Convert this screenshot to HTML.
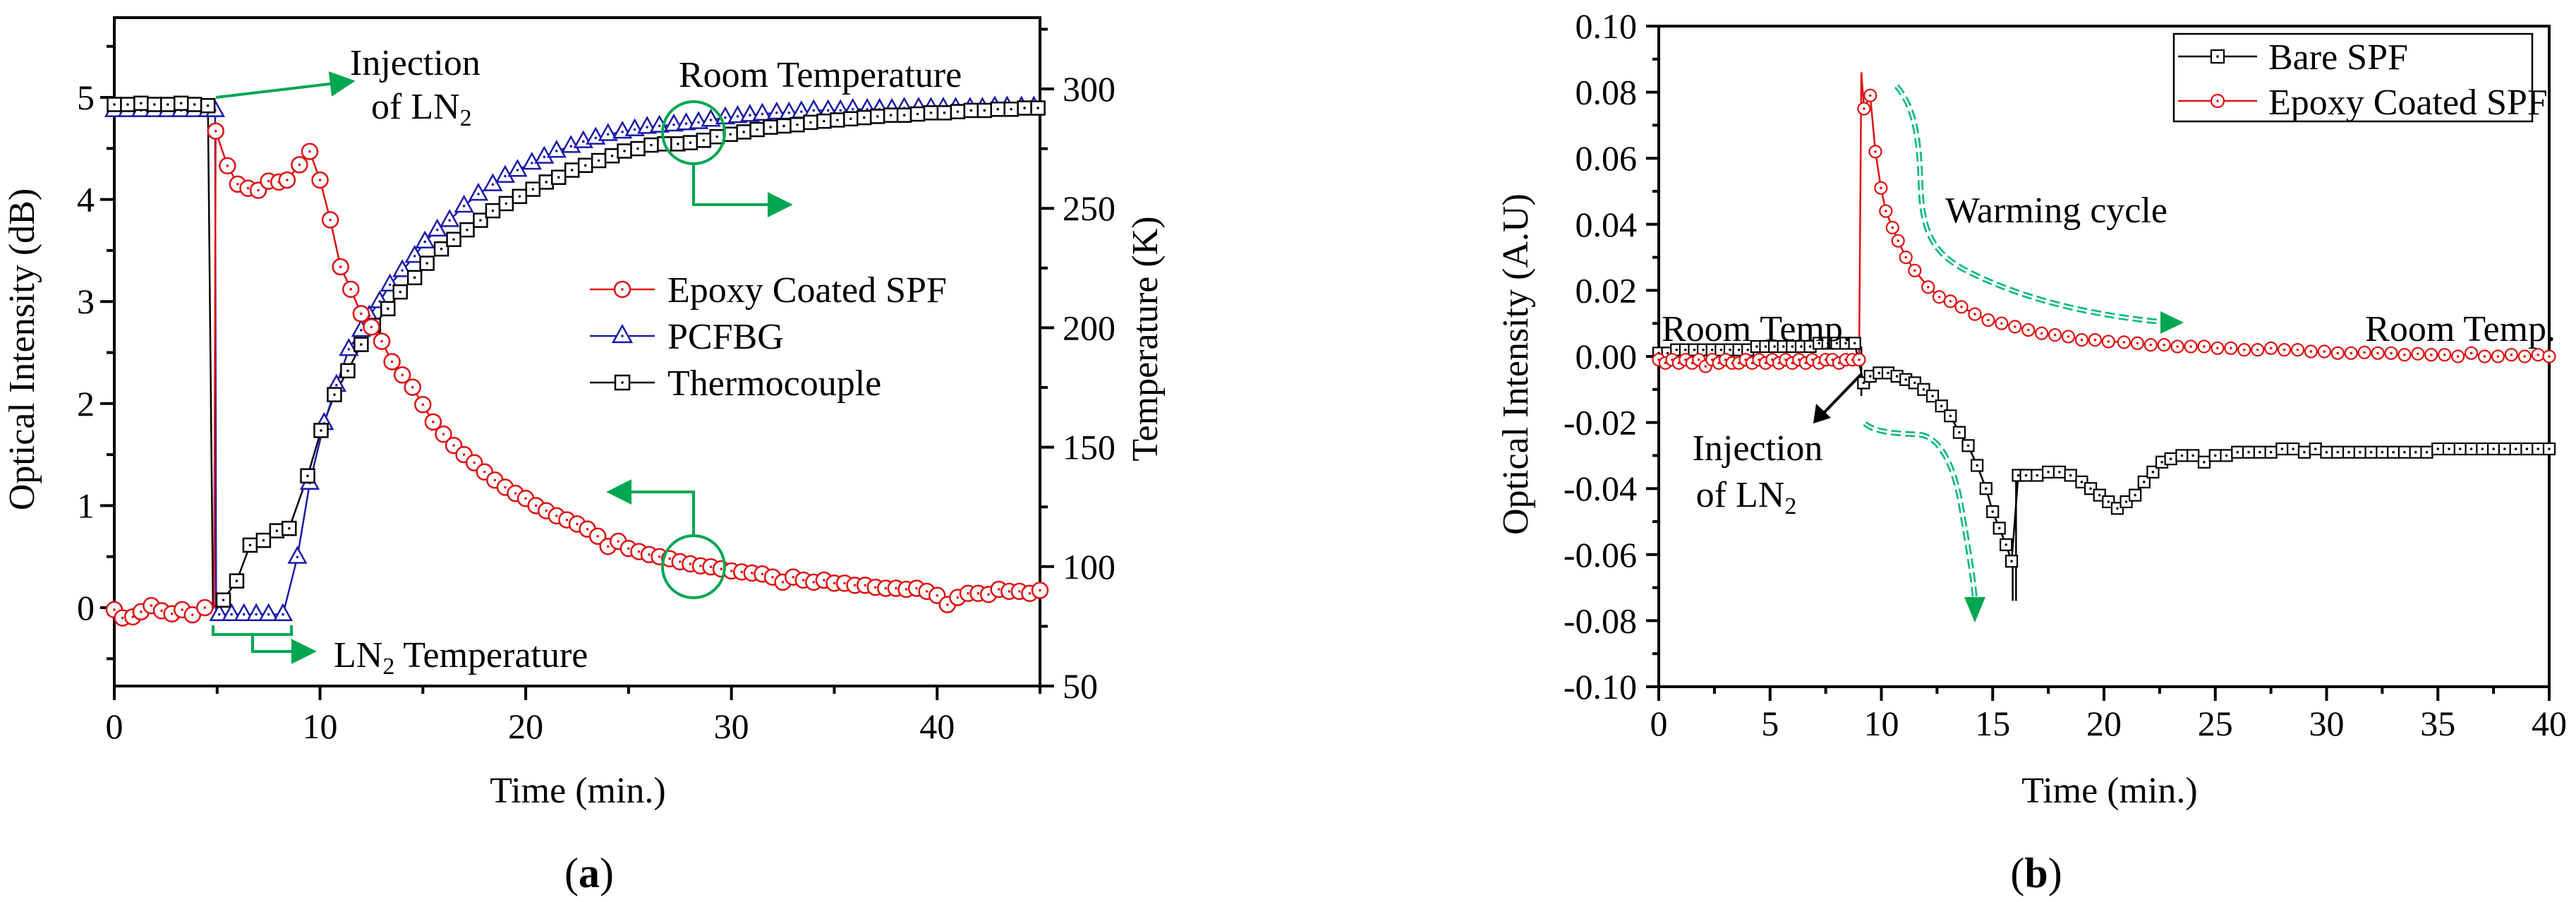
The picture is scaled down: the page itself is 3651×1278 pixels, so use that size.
<!DOCTYPE html>
<html><head><meta charset="utf-8"><style>
html,body{margin:0;padding:0;background:#fff;}
svg{display:block;font-family:"Liberation Serif",serif;}
</style></head><body>
<svg id="fig" width="3651" height="1278" viewBox="0 0 3651 1278" xmlns="http://www.w3.org/2000/svg">
<defs>
<marker id="ga" viewBox="0 0 10 10" refX="2" refY="5" markerWidth="9" markerHeight="9" orient="auto"><path d="M0,0L10,5L0,10z" fill="#00a650"/></marker>
</defs>
<g id="chartA"></g>
<g id="chartB"></g>

<g font-size="52" fill="#000">
<text x="48" y="495" text-anchor="middle" transform="rotate(-90 48 495)">Optical Intensity (dB)</text>
<text x="1640" y="480" text-anchor="middle" transform="rotate(-90 1640 480)">Temperature (K)</text>
<text x="819" y="1137" text-anchor="middle">Time (min.)</text>
<text x="835" y="1257" text-anchor="middle" font-size="60">(<tspan font-weight="bold">a</tspan>)</text>
<text x="496" y="106">Injection</text>
<text x="526" y="168">of LN<tspan font-size="34" dy="10">2</tspan></text>
<text x="962" y="123">Room Temperature</text>
<text x="473" y="945">LN<tspan font-size="34" dy="10">2</tspan><tspan dy="-10"> Temperature</tspan></text>
</g>
<g stroke="#00a650" stroke-width="4" fill="none">
<line x1="306" y1="138" x2="475" y2="118" marker-end="url(#ga)"/>
<circle cx="983" cy="188" r="44"/>
<polyline points="983,232 983,290 1095,290" marker-end="url(#ga)"/>
<circle cx="983" cy="803" r="44"/>
<polyline points="983,759 983,697 888,697" marker-end="url(#ga)"/>
<polyline points="302,886 302,899 413,899 413,886"/>
<polyline points="358,899 358,923 420,923" marker-end="url(#ga)"/>
</g>
<g font-size="52">
<text x="946" y="428">Epoxy Coated SPF</text>
<text x="946" y="494">PCFBG</text>
<text x="946" y="560">Thermocouple</text>
</g>

<g font-size="52" fill="#000">
<text x="2165" y="516" text-anchor="middle" transform="rotate(-90 2165 516)">Optical Intensity (A.U)</text>
<text x="2990" y="1137" text-anchor="middle">Time (min.)</text>
<text x="2886" y="1257" text-anchor="middle" font-size="60">(<tspan font-weight="bold">b</tspan>)</text>
<text x="2355" y="483">Room Temp.</text>
<text x="3622" y="483" text-anchor="end">Room Temp.</text>
<text x="2757" y="315">Warming cycle</text>
<text x="2491" y="652" text-anchor="middle">Injection</text>
<text x="2475" y="718" text-anchor="middle">of LN<tspan font-size="34" dy="10">2</tspan></text>
</g>
<g fill="none">
<path d="M2688,122 C2712,150 2720,190 2722,260 C2724,330 2740,360 2790,385 C2860,420 2950,445 3062,456" stroke="#12b886" stroke-width="8" stroke-dasharray="14 6"/>
<path d="M2688,122 C2712,150 2720,190 2722,260 C2724,330 2740,360 2790,385 C2860,420 2950,445 3062,456" stroke="#fff" stroke-width="2.5"/>
<path d="M3062,441 L3095,457 L3062,473 z" fill="#00a650"/>
<path d="M2643,600 C2660,615 2700,614 2722,616 C2750,620 2770,660 2780,720 C2790,780 2797,820 2799,850" stroke="#12b886" stroke-width="8" stroke-dasharray="14 6"/>
<path d="M2643,600 C2660,615 2700,614 2722,616 C2750,620 2770,660 2780,720 C2790,780 2797,820 2799,850" stroke="#fff" stroke-width="2.5"/>
<path d="M2784,846 L2799,882 L2814,846 z" fill="#00a650"/>
<line x1="2638" y1="530" x2="2582" y2="588" stroke="#000" stroke-width="4"/>
<path d="M2570,600 L2574,572 L2595,592 z" fill="#000"/>
</g>
<g>
<rect x="3081" y="48" width="508" height="124" fill="none" stroke="#000" stroke-width="2.5"/>
<text x="3215" y="98" font-size="52">Bare SPF</text>
<text x="3215" y="162" font-size="52">Epoxy Coated SPF</text>
</g>
</svg>
<script>
// ---------- Chart A data ----------
const aXTicks = [0,10,20,30,40];
const aYLeftTicks = [0,1,2,3,4,5];
const aYRightTicks = [50,100,150,200,250,300];
const epoxyA = [[0,-0.02],[0.4,-0.1],[0.9,-0.09],[1.3,-0.04],[1.8,0.02],[2.3,-0.03],[2.8,-0.06],[3.3,-0.02],[3.8,-0.07],[4.4,0.0],[4.85,0.0],[4.93,4.67],[5.5,4.33],[6.0,4.15],[6.5,4.11],[7.0,4.09],[7.5,4.18],[8.0,4.17],[8.4,4.19],[9.0,4.34],[9.5,4.47],[10,4.19],[10.5,3.8],[11,3.34],[11.5,3.12],[12,2.88],[12.5,2.75],[13,2.61],[13.5,2.41],[14,2.28],[14.5,2.16],[15,1.99],[15.5,1.82],[16,1.7],[16.5,1.59],[17,1.5],[17.5,1.42],[18,1.33],[18.5,1.25],[19,1.18],[19.5,1.12],[20,1.07],[20.5,1.0],[21,0.95],[21.5,0.9],[22,0.86],[22.5,0.82],[23,0.77],[23.5,0.7],[24,0.6],[24.5,0.65],[25,0.58],[25.5,0.55],[26,0.52],[26.5,0.5],[27,0.48],[27.5,0.45],[28,0.43],[28.5,0.41],[29,0.4],[29.5,0.38],[30,0.36],[30.5,0.35],[31,0.34],[31.5,0.33],[32,0.3],[32.5,0.25],[33,0.3],[33.5,0.27],[34,0.25],[34.5,0.27],[35,0.24],[35.5,0.24],[36,0.22],[36.5,0.22],[37,0.2],[37.5,0.19],[38,0.19],[38.5,0.18],[39,0.19],[39.5,0.16],[40,0.12],[40.5,0.03],[41,0.1],[41.5,0.14],[42,0.14],[42.5,0.13],[43,0.18],[43.5,0.16],[44,0.16],[44.5,0.14],[45,0.17]];
const pcfbgA = [[0,291],[0.65,291],[1.3,291],[1.95,291],[2.6,291],[3.25,291],[3.9,291],[4.55,291],[4.9,291],[4.95,80],[5.1,80],[5.7,80],[6.3,80],[6.9,80],[7.5,80],[8.2,80],[8.9,104],[9.5,135],[10.2,160],[10.8,176],[11.4,191],[12.0,199],[12.4,205],[12.9,211],[13.4,218],[14.0,224],[14.6,230],[15.1,236],[15.7,241],[16.3,245],[17.0,251],[17.7,256],[18.4,260],[19.0,263.5],[19.6,266],[20.3,269],[20.9,271.5],[21.5,274],[22.2,276],[22.8,278],[23.4,279.5],[24.0,281],[24.7,282],[25.3,283],[25.9,284],[26.5,284.5],[27.2,285],[27.8,285.5],[28.4,286],[29.0,287],[29.7,288],[30.3,288.5],[30.9,289],[31.5,289.5],[32.2,290],[32.8,290],[33.4,290.5],[34.0,291],[34.7,291],[35.3,291],[35.9,291.5],[36.6,291.5],[37.2,291.5],[37.8,291.5],[38.4,292],[39.1,292],[39.7,292],[40.3,292],[40.9,292],[41.6,292],[42.2,292],[42.8,292.5],[43.4,292.5],[44.1,292.5],[44.7,292.5]];
const thermoA = [[0,293.5],[0.65,293.5],[1.3,294],[1.95,293.5],[2.6,293.5],[3.25,294],[3.9,293.5],[4.55,293],[4.8,83],[5.3,86],[5.95,94],[6.6,109],[7.25,111],[7.9,115],[8.5,116],[9.4,138],[10.05,157],[10.7,172],[11.35,182],[12.0,193],[12.6,201],[13.3,208],[13.9,215],[14.6,221],[15.2,227],[15.9,233],[16.5,237],[17.15,241],[17.8,245],[18.4,249],[19.05,252],[19.7,255],[20.35,258],[21.0,261],[21.6,263],[22.25,266],[22.9,268],[23.55,270],[24.2,272],[24.8,274],[25.45,275],[26.1,276.5],[26.75,277],[27.4,277],[28.0,277.5],[28.65,278.5],[29.3,280],[29.95,281],[30.6,282],[31.25,283],[31.9,284],[32.55,284.5],[33.2,285],[33.85,286],[34.5,286.5],[35.15,287],[35.8,287.5],[36.45,288],[37.1,288.5],[37.75,289],[38.4,289],[39.05,289.5],[39.7,290],[40.35,290],[41.0,290.5],[41.65,291],[42.3,291],[42.95,291.5],[43.6,291.5],[44.25,292],[44.9,292]];
// ---------- Chart B data ----------
const bXTicks = [0,5,10,15,20,25,30,35,40];
const bYTicks = [-0.10,-0.08,-0.06,-0.04,-0.02,0.00,0.02,0.04,0.06,0.08,0.10];
const bYTickLabels = ["-0.10","-0.08","-0.06","-0.04","-0.02","0.00","0.02","0.04","0.06","0.08","0.10"];
const bareB = [[0,0.001],[0.4,0.001],[0.8,0.002],[1.2,0.002],[1.6,0.002],[2,0.002],[2.4,0.002],[2.8,0.002],[3.2,0.002],[3.6,0.002],[4,0.002],[4.4,0.003],[4.8,0.003],[5.2,0.003],[5.6,0.003],[6,0.003],[6.4,0.003],[6.8,0.003],[7.2,0.004],[7.6,0.004],[8,0.004],[8.4,0.004],[8.8,0.004],[9.2,-0.008],[9.5,-0.006],[9.9,-0.005],[10.3,-0.005],[10.7,-0.006],[11.1,-0.007],[11.5,-0.008],[11.9,-0.010],[12.3,-0.012],[12.7,-0.015],[13.1,-0.018],[13.5,-0.023],[13.9,-0.027],[14.3,-0.033],[14.7,-0.040],[15.0,-0.047],[15.3,-0.052],[15.6,-0.057],[15.85,-0.062],[16.15,-0.036],[16.5,-0.036],[17,-0.036],[17.5,-0.035],[18,-0.035],[18.5,-0.036],[19,-0.038],[19.4,-0.040],[19.8,-0.042],[20.2,-0.044],[20.6,-0.046],[21,-0.044],[21.4,-0.042],[21.8,-0.038],[22.2,-0.035],[22.6,-0.032],[23,-0.031],[23.5,-0.030],[24,-0.030],[24.5,-0.032],[25,-0.030],[25.5,-0.030],[26,-0.029],[26.5,-0.029],[27,-0.029],[27.5,-0.029],[28,-0.028],[28.5,-0.028],[29,-0.029],[29.5,-0.028],[30,-0.029],[30.5,-0.029],[31,-0.029],[31.5,-0.029],[32,-0.029],[32.5,-0.029],[33,-0.029],[33.5,-0.029],[34,-0.029],[34.5,-0.029],[35,-0.028],[35.5,-0.028],[36,-0.028],[36.5,-0.028],[37,-0.028],[37.5,-0.028],[38,-0.028],[38.5,-0.028],[39,-0.028],[39.5,-0.028],[40,-0.028]];
const bareSpikes = [[9.1,0.003,-0.012],[15.9,-0.062,-0.074],[16.05,-0.074,-0.036]];
const epoxyB = [[0,-0.001],[0.3,-0.002],[0.6,-0.001],[0.9,-0.002],[1.2,-0.001],[1.5,-0.002],[1.8,-0.001],[2.1,-0.003],[2.4,-0.001],[2.7,-0.002],[3.0,-0.001],[3.3,-0.002],[3.6,-0.002],[3.9,-0.001],[4.2,-0.002],[4.5,-0.001],[4.8,-0.002],[5.1,-0.001],[5.4,-0.002],[5.7,-0.001],[6.0,-0.002],[6.3,-0.001],[6.6,-0.002],[6.9,-0.001],[7.2,-0.002],[7.5,-0.001],[7.8,-0.001],[8.1,-0.002],[8.4,-0.001],[8.7,-0.001],[9.0,-0.001],[9.1,0.086],[9.22,0.075],[9.5,0.079],[9.73,0.062],[9.98,0.051],[10.2,0.044],[10.5,0.039],[10.75,0.035],[11.1,0.030],[11.5,0.026],[12.1,0.021],[12.6,0.018],[13.1,0.0167],[13.6,0.015],[14.2,0.0128],[14.8,0.011],[15.4,0.010],[16,0.009],[16.6,0.008],[17.2,0.007],[17.8,0.0065],[18.4,0.006],[19.0,0.005],[19.6,0.005],[20.2,0.0045],[20.9,0.0043],[21.5,0.004],[22.1,0.0035],[22.7,0.0035],[23.3,0.003],[23.9,0.003],[24.5,0.003],[25.1,0.0025],[25.7,0.0025],[26.3,0.002],[26.9,0.002],[27.5,0.0025],[28.1,0.002],[28.7,0.002],[29.3,0.0015],[29.9,0.0015],[30.5,0.001],[31.1,0.001],[31.7,0.0012],[32.3,0.001],[32.9,0.001],[33.5,0.0005],[34.1,0.0008],[34.7,0.0005],[35.3,0.0005],[35.9,0.0],[36.5,0.001],[37.1,0.0],[37.7,0.0],[38.3,0.0005],[38.9,0.0],[39.5,0.0005],[40,0.0]];

const NS = "http://www.w3.org/2000/svg";
function el(parent, tag, attrs){
  const e = document.createElementNS(NS, tag);
  for (const k in attrs) e.setAttribute(k, attrs[k]);
  parent.appendChild(e);
  return e;
}
const gA = document.getElementById('chartA');
const gB = document.getElementById('chartB');

const A = {x0:162, x1:1474, y0:972, y1:25};
const xA = t => A.x0 + t*(A.x1-A.x0)/45;
const yAdB = v => 861 - v*144.6;
const yAK = k => 972 - (k-50)*3.384;
const B = {x0:2351, x1:3613, y0:973, y1:37};
const xB = t => B.x0 + t*(B.x1-B.x0)/40;
const yB = v => 505 - v*4680;

let e;
e = el(gA,'rect',{x:A.x0,y:A.y1,width:A.x1-A.x0,height:A.y0-A.y1,fill:'none',stroke:'#000','stroke-width':4});


for (let t=0;t<=45;t+=5){
  const major = (t%10===0);
  e = el(gA,'line',{x1:xA(t),x2:xA(t),y1:A.y0,y2:A.y0+(major?20:11),stroke:'#000','stroke-width':4});
  
  
}
aXTicks.forEach(t=>{
  e = el(gA,'text',{x:xA(t),y:1046,'text-anchor':'middle','font-size':50});
  e.textContent = String(t);
  
  
});
for (let v=-0.5; v<=5.51; v+=0.5){
  const major = Math.abs(v-Math.round(v))<0.01;
  e = el(gA,'line',{x1:A.x0,x2:A.x0-(major?20:11),y1:yAdB(v),y2:yAdB(v),stroke:'#000','stroke-width':4});
  
  
}
aYLeftTicks.forEach(v=>{
  e = el(gA,'text',{x:134,y:yAdB(v)+17,'text-anchor':'end','font-size':50});
  e.textContent = String(v);
  
  
});
for (let k=50;k<=325;k+=25){
  const major = (k%50===0);
  e = el(gA,'line',{x1:A.x1,x2:A.x1+(major?20:11),y1:yAK(k),y2:yAK(k),stroke:'#000','stroke-width':4});
  
  
}
aYRightTicks.forEach(k=>{
  e = el(gA,'text',{x:1506,y:yAK(k)+17,'font-size':50});
  e.textContent = String(k);
  
  
});

function ptsStr(arr, fx, fy){ return arr.map(p=>fx(p[0]).toFixed(1)+','+fy(p[1]).toFixed(1)).join(' '); }

e = el(gA,'polyline',{points:ptsStr(thermoA,xA,yAK),fill:'none',stroke:'#000','stroke-width':2.5});


e = el(gA,'polyline',{points:ptsStr(pcfbgA,xA,yAK),fill:'none',stroke:'#1a1aa8','stroke-width':2.5});


e = el(gA,'polyline',{points:ptsStr(epoxyA,xA,yAdB),fill:'none',stroke:'#e01010','stroke-width':2.5});



function tri(g,cx,cy,s,col){
  const h=s*0.9;
  const p = `${cx},${cy-h*0.62} ${cx+s/2},${cy+h*0.38} ${cx-s/2},${cy+h*0.38}`;
  return el(g,'polygon',{points:p,fill:'#fff',stroke:col,'stroke-width':2.5});
}
function dot(g,cx,cy,col){ return el(g,'circle',{cx:cx,cy:cy,r:1.8,fill:col}); }

pcfbgA.forEach((p,i)=>{
  if (i===9) return;
  const cx=xA(p[0]), cy=yAK(p[1]);
  e = tri(gA,cx,cy,24,'#1a1aa8');
  
  
  e = dot(gA,cx,cy,'#1a1aa8');
  
  
});
thermoA.forEach((p,i)=>{
  if (i===8) return;
  const cx=xA(p[0]), cy=yAK(p[1]);
  e = el(gA,'rect',{x:cx-9.5,y:cy-9.5,width:19,height:19,fill:'#fff',stroke:'#000','stroke-width':2.5});
  
  
  e = dot(gA,cx,cy,'#000');
  
  
});
epoxyA.forEach((p,i)=>{
  if (i===10) return;
  const cx=xA(p[0]), cy=yAdB(p[1]);
  e = el(gA,'circle',{cx:cx,cy:cy,r:11,fill:'#fff',stroke:'#e01010','stroke-width':2.5});
  
  
  e = dot(gA,cx,cy,'#e01010');
  
  
});

const legA = [[410,'#e01010','c'],[476,'#1a1aa8','t'],[542,'#000','s']];
legA.forEach(r=>{
  e = el(gA,'line',{x1:836,x2:928,y1:r[0],y2:r[0],stroke:r[1],'stroke-width':2.5});
  
  
  if (r[2]==='c') e = el(gA,'circle',{cx:882,cy:r[0],r:11,fill:'#fff',stroke:r[1],'stroke-width':2.5});
  else if (r[2]==='t') e = tri(gA,882,r[0],26,r[1]);
  else e = el(gA,'rect',{x:872,y:r[0]-10,width:20,height:20,fill:'#fff',stroke:r[1],'stroke-width':2.5});
  
  
  e = dot(gA,882,r[0],r[1]);
  
  
});

e = el(gB,'rect',{x:B.x0,y:B.y1,width:B.x1-B.x0,height:B.y0-B.y1,fill:'none',stroke:'#000','stroke-width':4});


for (let t=0;t<=40;t+=2.5){
  const major = (t%5===0);
  e = el(gB,'line',{x1:xB(t),x2:xB(t),y1:B.y0,y2:B.y0+(major?20:10),stroke:'#000','stroke-width':4});
  
  
}
bXTicks.forEach(t=>{
  e = el(gB,'text',{x:xB(t),y:1042,'text-anchor':'middle','font-size':50});
  e.textContent = String(t);
  
  
});
for (let i=-10;i<=10;i++){
  const major = (i%2===0);
  const v=i/100;
  e = el(gB,'line',{x1:B.x0,x2:B.x0-(major?18:9),y1:yB(v),y2:yB(v),stroke:'#000','stroke-width':4});
  
  
}
bYTicks.forEach((v,i)=>{
  e = el(gB,'text',{x:2320,y:yB(v)+17,'text-anchor':'end','font-size':50});
  e.textContent = bYTickLabels[i];
  
  
});

e = el(gB,'polyline',{points:ptsStr(bareB,xB,yB),fill:'none',stroke:'#000','stroke-width':2.5});


bareSpikes.forEach(s=>{
  e = el(gB,'line',{x1:xB(s[0]),x2:xB(s[0]),y1:yB(s[1]),y2:yB(s[2]),stroke:'#000','stroke-width':2.5});
  
  
});
e = el(gB,'polyline',{points:ptsStr(epoxyB,xB,yB),fill:'none',stroke:'#e01010','stroke-width':2.5});



bareB.forEach(p=>{
  const cx=xB(p[0]), cy=yB(p[1]);
  e = el(gB,'rect',{x:cx-8,y:cy-8,width:16,height:16,fill:'#fff',stroke:'#000','stroke-width':2.2});
  
  
  e = dot(gB,cx,cy,'#000');
  
  
});
epoxyB.forEach((p,i)=>{
  if (i===31) return;
  const cx=xB(p[0]), cy=yB(p[1]);
  e = el(gB,'circle',{cx:cx,cy:cy,r:8.5,fill:'#fff',stroke:'#e01010','stroke-width':2.2});
  
  
  e = dot(gB,cx,cy,'#e01010');
  
  
});

const legB = [[80,'#000','s'],[143,'#e01010','c']];
legB.forEach(r=>{
  e = el(gB,'line',{x1:3087,x2:3199,y1:r[0],y2:r[0],stroke:r[1],'stroke-width':2.5});
  
  
  if (r[2]==='c') e = el(gB,'circle',{cx:3143,cy:r[0],r:9,fill:'#fff',stroke:r[1],'stroke-width':2.2});
  else e = el(gB,'rect',{x:3134,y:r[0]-9,width:18,height:18,fill:'#fff',stroke:r[1],'stroke-width':2.2});
  
  
  e = dot(gB,3143,r[0],r[1]);
  
  
});
</script>
</body></html>
